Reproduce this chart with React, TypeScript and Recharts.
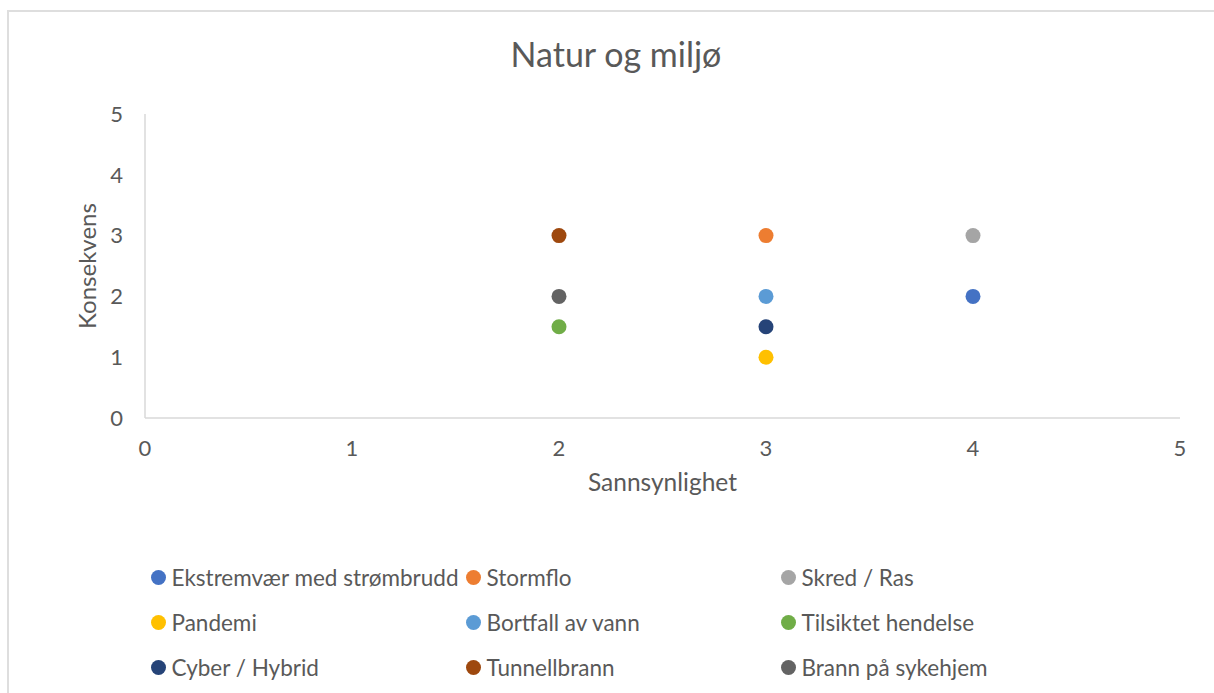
import React from 'react';
import { ScatterChart, Scatter, XAxis, YAxis, Legend, Label } from 'recharts';

const seriesNames = [
  'Ekstremvær med strømbrudd',
  'Stormflo',
  'Skred / Ras',
  'Pandemi',
  'Bortfall av vann',
  'Tilsiktet hendelse',
  'Cyber / Hybrid',
  'Tunnellbrann',
  'Brann på sykehjem',
];
const sannsynlighet = [4, 3, 4, 3, 3, 2, 3, 2, 2];
const konsekvens = [2, 3, 3, 1, 2, 1.5, 1.5, 3, 2];
const seriesColors = ['#4472C4', '#ED7D31', '#A5A5A5', '#FFC000', '#5B9BD5', '#70AD47', '#264478', '#9E480E', '#636363'];
const axisTicks = [0, 1, 2, 3, 4, 5];

const TEXT = '#595959';
const FONT = 'Lato, "Open Sans", sans-serif';

const Dot = (props: any) => {
  const { cx, cy, fill } = props;
  if (cx == null || cy == null) return null;
  return <circle cx={cx} cy={cy} r={7.5} fill={fill} />;
};

const LegendContent = (props: any) => {
  const payload = [...(props.payload || [])].sort(
    (a: any, b: any) => seriesNames.indexOf(a.value) - seriesNames.indexOf(b.value)
  );
  return (
    <div style={{ position: 'relative', width: 1214, height: 130 }}>
      {payload.map((entry: any, i: number) => {
        const col = i % 3;
        const row = Math.floor(i / 3);
        const cx = 158 + col * 315;
        const cy = 22 + row * 45;
        return (
          <div
            key={i}
            style={{
              position: 'absolute',
              left: cx - 7.5,
              top: cy - 14,
              height: 28,
              display: 'flex',
              alignItems: 'center',
              whiteSpace: 'nowrap',
            }}
          >
            <span
              style={{
                display: 'inline-block',
                width: 15,
                height: 15,
                borderRadius: 7.5,
                background: entry.color,
                marginRight: 6,
              }}
            />
            <span style={{ fontSize: 22.5, color: TEXT, fontFamily: FONT }}>{entry.value}</span>
          </div>
        );
      })}
    </div>
  );
};

export default function App() {
  return (
    <div style={{ position: 'absolute', left: 0, top: 0, width: 1214, height: 693, overflow: 'hidden', background: '#fff', fontFamily: FONT }}>
      <div
        style={{
          position: 'absolute',
          left: 7,
          top: 10,
          width: 1230,
          height: 720,
          border: '2px solid #DEDEDE',
          boxSizing: 'border-box',
        }}
      />
      <div
        style={{
          position: 'absolute',
          left: 0,
          width: 1232,
          top: 33,
          textAlign: 'center',
          fontSize: 34,
          color: TEXT,
          lineHeight: '42px',
        }}
      >
        Natur og miljø
      </div>
      <ScatterChart width={1214} height={693} margin={{ top: 114, right: 34, bottom: 245, left: 85 }}>
        <XAxis
          type="number"
          dataKey="x"
          domain={[0, 5]}
          ticks={axisTicks}
          height={30}
          axisLine={{ stroke: '#D9D9D9', strokeWidth: 1.5 }}
          tickLine={false}
          tickSize={0}
          tickMargin={22}
          tick={{ fill: TEXT, fontSize: 22 }}
        >
          <Label value="Sannsynlighet" position="bottom" offset={26} style={{ fill: TEXT, fontSize: 24.5 }} />
        </XAxis>
        <YAxis
          type="number"
          dataKey="y"
          domain={[0, 5]}
          ticks={axisTicks}
          width={60}
          axisLine={{ stroke: '#D9D9D9', strokeWidth: 1.5 }}
          tickLine={false}
          tickSize={0}
          tickMargin={22}
          tick={{ fill: TEXT, fontSize: 22 }}
        >
          <Label
            value="Konsekvens"
            position="insideLeft"
            angle={-90}
            offset={2}
            style={{ fill: TEXT, fontSize: 24, textAnchor: 'middle' }}
          />
        </YAxis>
        <Legend
          layout="horizontal"
          verticalAlign="middle"
          align="center"
          content={<LegendContent />}
          wrapperStyle={{ left: 0, top: 555, width: 1214, height: 130 }}
        />
        {seriesNames.map((name, i) => (
          <Scatter
            key={name}
            name={name}
            data={[{ x: sannsynlighet[i], y: konsekvens[i] }]}
            fill={seriesColors[i]}
            shape={<Dot />}
            legendType="circle"
            isAnimationActive={false}
          />
        ))}
      </ScatterChart>
    </div>
  );
}
